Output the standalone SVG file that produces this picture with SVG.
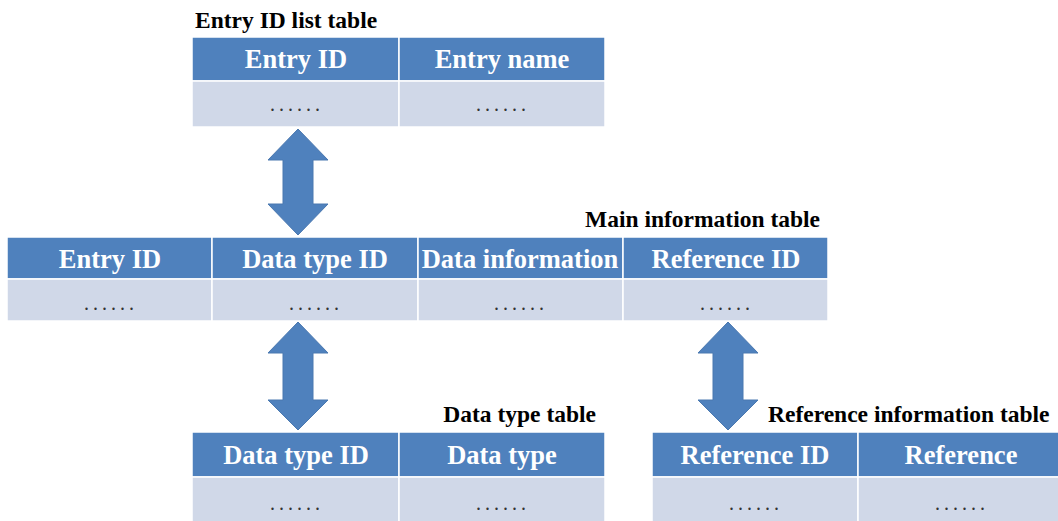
<svg xmlns="http://www.w3.org/2000/svg" width="1058" height="521" viewBox="0 0 1058 521">
<style>
.hd{fill:#4F81BD;stroke:#fff;stroke-width:1.5}
.bd{fill:#D0D8E8;stroke:#fff;stroke-width:1.5}
.ht{font-family:"Liberation Serif",serif;font-weight:bold;font-size:26.5px;fill:#fff;text-anchor:middle}
.dt{font-family:"Liberation Serif",serif;font-size:20px;fill:#333;text-anchor:middle;letter-spacing:4px}
.tt{font-family:"Liberation Serif",serif;font-weight:bold;font-size:23.5px;fill:#000}
.ar{fill:#4F81BD;stroke:#4A78B0;stroke-width:1}
</style>
<rect width="1058" height="521" fill="#fff"/>
<g id="entry-list-table">
<text class="tt" x="195" y="28">Entry ID list table</text>
<rect class="hd" x="192" y="37" width="207" height="44"/>
<rect class="hd" x="399" y="37" width="206" height="44"/>
<rect class="bd" x="192" y="81" width="207" height="46"/>
<rect class="bd" x="399" y="81" width="206" height="46"/>
<text class="ht" x="296" y="68">Entry ID</text>
<text class="ht" x="502" y="68">Entry name</text>
<text class="dt" x="297" y="111">......</text>
<text class="dt" x="503" y="111">......</text>
</g>
<g id="main-information-table">
<text class="tt" x="820" y="227" text-anchor="end">Main information table</text>
<rect class="hd" x="7" y="237" width="205" height="42"/>
<rect class="hd" x="212" y="237" width="206" height="42"/>
<rect class="hd" x="418" y="237" width="205" height="42"/>
<rect class="hd" x="623" y="237" width="205" height="42"/>
<rect class="bd" x="7" y="279" width="205" height="42"/>
<rect class="bd" x="212" y="279" width="206" height="42"/>
<rect class="bd" x="418" y="279" width="205" height="42"/>
<rect class="bd" x="623" y="279" width="205" height="42"/>
<text class="ht" x="110" y="268">Entry ID</text>
<text class="ht" x="315" y="268">Data type ID</text>
<text class="ht" x="520" y="268">Data information</text>
<text class="ht" x="726" y="268">Reference ID</text>
<text class="dt" x="111" y="310">......</text>
<text class="dt" x="316" y="310">......</text>
<text class="dt" x="521" y="310">......</text>
<text class="dt" x="727" y="310">......</text>
</g>
<g id="data-type-table">
<text class="tt" x="596" y="422" text-anchor="end">Data type table</text>
<rect class="hd" x="192" y="432" width="207" height="45"/>
<rect class="hd" x="399" y="432" width="206" height="45"/>
<rect class="bd" x="192" y="477" width="207" height="50"/>
<rect class="bd" x="399" y="477" width="206" height="50"/>
<text class="ht" x="296" y="464">Data type ID</text>
<text class="ht" x="502" y="464">Data type</text>
<text class="dt" x="297" y="510">......</text>
<text class="dt" x="503" y="510">......</text>
</g>
<g id="reference-information-table">
<text class="tt" x="768" y="422">Reference information table</text>
<rect class="hd" x="652" y="432" width="206" height="45"/>
<rect class="hd" x="858" y="432" width="207" height="45"/>
<rect class="bd" x="652" y="477" width="206" height="50"/>
<rect class="bd" x="858" y="477" width="207" height="50"/>
<text class="ht" x="755" y="464">Reference ID</text>
<text class="ht" x="961" y="464">Reference</text>
<text class="dt" x="756" y="510">......</text>
<text class="dt" x="962" y="510">......</text>
</g>
<g id="connectors">
<polygon class="ar" points="298,129 328,160 313,160 313,204 328,204 298,235 268,204 283,204 283,160 268,160"/>
<polygon class="ar" points="298,322 328,353 313,353 313,400 328,400 298,430 268,400 283,400 283,353 268,353"/>
<polygon class="ar" points="728,322 758,353 743,353 743,400 758,400 728,430 698,400 713,400 713,353 698,353"/>
</g>
</svg>
